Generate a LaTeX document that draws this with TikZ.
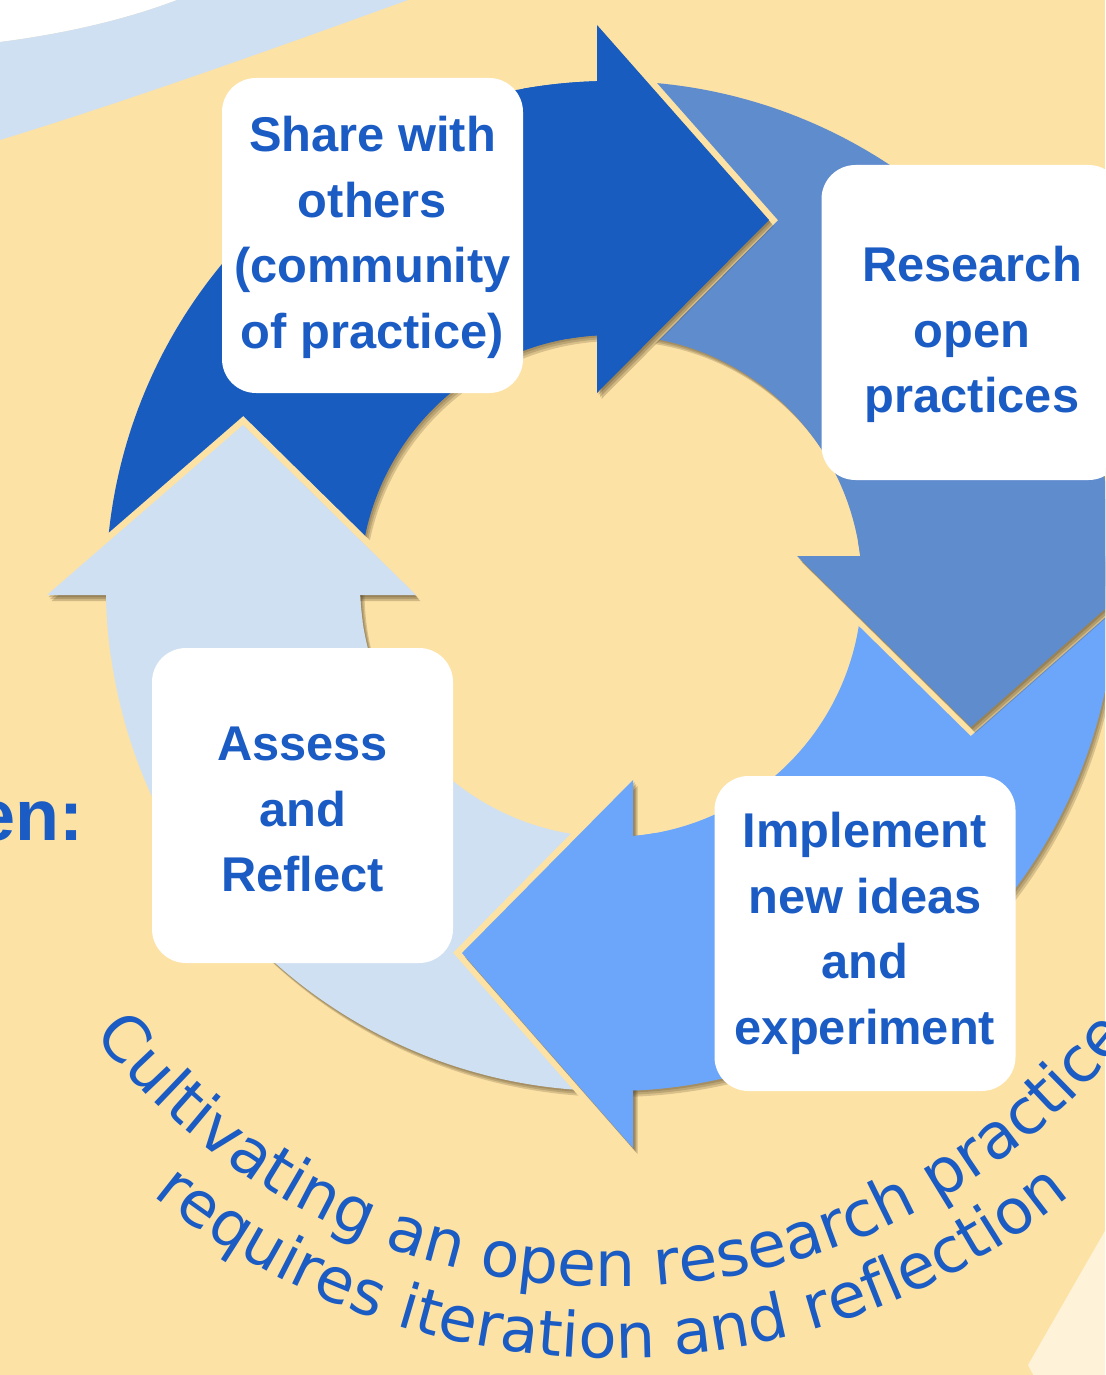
\documentclass[tikz,border=0pt]{standalone}
\usepackage{fontspec}
\setmainfont{Liberation Sans}
\newfontfamily\arcfont{DejaVu Sans}
\usetikzlibrary{decorations.text}
\definecolor{bgc}{HTML}{FDE2A6}
\definecolor{darkb}{HTML}{185CBF}
\definecolor{midb}{HTML}{5F8CCC}
\definecolor{lightb}{HTML}{6CA6FA}
\definecolor{paleb}{HTML}{CFE0F2}
\definecolor{txtb}{HTML}{1A5BC4}
\definecolor{cream}{HTML}{FEF2D8}
\definecolor{shad}{HTML}{4A3A1C}
\newcommand\ringsector[3]{%
  \fill[#1] plot[domain=#2:#3,samples=90] ({611+505*cos(\x)},{586+505*sin(\x)})
    -- plot[domain=#3:#2,samples=90] ({611+251*cos(\x)},{586+251*sin(\x)}) -- cycle;}
\newcommand\ringshadow[2]{%
  \foreach \sx/\sy in {1.5/2,3/4,4.5/6}{%
    \ringsector{shad,opacity=.2,shift={(\sx,\sy)}}{#1}{#2}}}
\newcommand\arrowhead[4]{%
  \draw[bgc,line width=6.5pt] #2 -- #3 -- #4;
  \foreach \sx/\sy in {1.5/2,3/4,4.5/6}{%
    \fill[shad,opacity=.24,shift={(\sx,\sy)}] #2 -- #3 -- #4 -- cycle;}
  \fill[#1] #2 -- #3 -- #4 -- cycle;}
\tikzset{
  boxstyle/.style={fill=white, rounded corners=17pt, minimum width=150.5pt,
    minimum height=157.5pt, inner sep=0pt, draw=none},
  boxtext/.style={anchor=north, align=center, text=txtb, inner sep=0pt,
    font=\bfseries\fontsize{24.4}{32.75}\selectfont}
}
\begin{document}
\begin{tikzpicture}[x=0.5pt,y=-0.5pt]
\path[use as bounding box] (0,0) rectangle (1105,1375);
\clip (0,0) rectangle (1105,1375);
% background
\fill[bgc] (0,0) rectangle (1105,1375);
\fill[white] (0,0) -- (177,0) .. controls (130,18) and (70,33) .. (0,42) -- cycle;
\fill[paleb] (0,42) .. controls (70,33) and (130,18) .. (177,0) -- (408,0)
   .. controls (270,50) and (130,100) .. (0,140) -- cycle;
\fill[cream] (1028,1365) -- (1110,1222) -- (1110,1380) -- (1036,1380) -- cycle;
% ring body shadows
\ringshadow{183}{270}
\ringshadow{273}{360}
\ringshadow{0}{90}
\ringshadow{90}{182}
% ring bodies
\ringsector{darkb}{183}{270}
\ringsector{midb}{273}{360}
\ringsector{lightb}{0}{90}
\ringsector{paleb}{90}{182}
% arrow heads
\arrowhead{darkb}{(597,25)}{(769,220)}{(597,393)}
\ringsector{darkb}{260}{270}
\arrowhead{midb}{(1165,556)}{(971,727)}{(797,556)}
\ringsector{midb}{350}{360}
\arrowhead{lightb}{(633,1148)}{(462,953)}{(633,780)}
\ringsector{lightb}{80}{90}
\arrowhead{paleb}{(47,595)}{(243,425)}{(416,595)}
\ringsector{paleb}{172}{182}
% boxes
\node[boxstyle] (share) at (372.5,235.5) {};
\node[boxtext] (sharet) at (372.5,116) {Share with\\others\\(community\\of practice)};
\node[boxstyle] (research) at (972,322.5) {};
\node[boxtext] (researcht) at (972,246) {Research\\open\\practices};
\node[boxstyle] (implement) at (865,933.5) {};
\node[boxtext] (implementt) at (865,812) {Implement\\new ideas\\and\\experiment};
\node[boxstyle] (assess) at (302.5,805.5) {};
\node[boxtext] (assesst) at (302.5,727) {Assess\\and\\Reflect};
% partial heading
\node[anchor=base east, text=txtb, inner sep=0pt,
  font=\bfseries\fontsize{36}{40}\selectfont] (en) at (84,840) {en:};
% arc text
\path[decorate, decoration={text along path, text align=center, text color=txtb,
  text={|\arcfont\fontsize{31.6}{36}\selectfont|Cultivating an open research practice}}]
  plot[domain=155:25, samples=200] ({612+658.5*cos(\x)},{628.5+658.5*sin(\x)});
\path[decorate, decoration={text along path, text align=center, text color=txtb,
  text={|\arcfont\fontsize{31.2}{36}\selectfont|requires iteration and reflection}}]
  plot[domain=145:35, samples=200] ({612+729.5*cos(\x)},{628.5+729.5*sin(\x)});
\end{tikzpicture}
\end{document}
